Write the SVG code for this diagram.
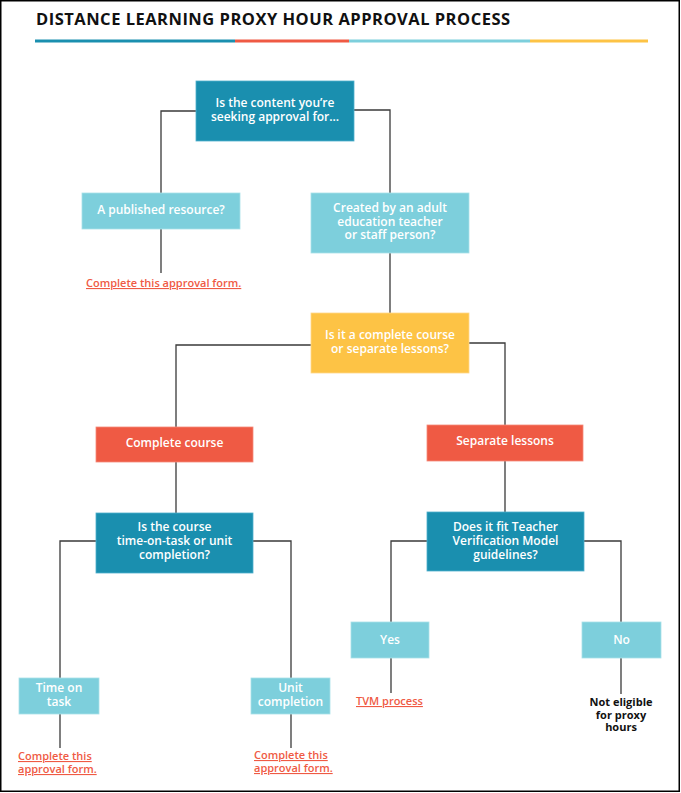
<svg xmlns="http://www.w3.org/2000/svg" width="681" height="793" viewBox="0 0 681 793">
<style>
.t{font-family:"Open Sans","Liberation Sans",sans-serif;font-weight:600;font-size:12px;fill:#fff;text-anchor:middle}
.lk{font-family:"Open Sans","Liberation Sans",sans-serif;font-weight:600;font-size:11px;fill:#ef5a44;text-decoration:underline}
.bk{font-family:"Open Sans","Liberation Sans",sans-serif;font-weight:700;font-size:11px;fill:#111;text-anchor:middle}
.c{fill:none;stroke:#3a3a3a;stroke-width:1.3}
.db{fill:#1a8faf;stroke:#4fb0cc;stroke-width:0.8}
.lb{fill:#7dcfdc;stroke:#a9e0e8;stroke-width:0.8}
.rd{fill:#ef5a44;stroke:#f58a7a;stroke-width:0.8}
.yl{fill:#fdc345;stroke:#fed88a;stroke-width:0.8}
</style>
<rect x="0" y="0" width="681" height="793" fill="#fff"/>
<rect x="0.75" y="0.75" width="678.5" height="790.5" fill="none" stroke="#000" stroke-width="1.5"/>
<g id="title">
<text x="36" y="25" font-family="Open Sans, Liberation Sans, sans-serif" font-weight="700" font-size="16.5" fill="#111" letter-spacing="0.5">DISTANCE LEARNING PROXY HOUR APPROVAL PROCESS</text>
<rect x="35" y="39.5" width="200" height="3" fill="#1a8faf"/>
<rect x="235" y="39.5" width="114" height="3" fill="#ef5a44"/>
<rect x="349" y="39.5" width="181" height="3" fill="#7dcfdc"/>
<rect x="530" y="39.5" width="118" height="3" fill="#fdc345"/>
</g>
<g id="connectors">
<path class="c" d="M196,111 H161 V193"/>
<path class="c" d="M354,110 H390 V193"/>
<path class="c" d="M161,229 V273"/>
<path class="c" d="M390,253 V313"/>
<path class="c" d="M311,345 H176 V427"/>
<path class="c" d="M469,343 H505 V425"/>
<path class="c" d="M176,462 V513"/>
<path class="c" d="M505,461 V512"/>
<path class="c" d="M96,541 H60 V678"/>
<path class="c" d="M253,541 H291 V678"/>
<path class="c" d="M427,541 H391 V622"/>
<path class="c" d="M584,541 H621 V622"/>
<path class="c" d="M60,714 V748"/>
<path class="c" d="M291,714 V748"/>
<path class="c" d="M391,658 V693"/>
<path class="c" d="M621,658 V694"/>
</g>
<g id="n-content">
<rect class="db" x="196" y="81" width="158" height="60"/>
<text class="t" x="275" y="107">Is the content you’re</text>
<text class="t" x="275" y="120.5">seeking approval for…</text>
</g>
<g id="n-published">
<rect class="lb" x="82" y="193" width="158" height="36"/>
<text class="t" x="161" y="213.5">A published resource?</text>
</g>
<g id="l-published">
<text class="lk" x="86" y="287">Complete this approval form.</text>
</g>
<g id="n-created">
<rect class="lb" x="311" y="193" width="158" height="60"/>
<text class="t" x="390" y="212">Created by an adult</text>
<text class="t" x="390" y="225.5">education teacher</text>
<text class="t" x="390" y="239">or staff person?</text>
</g>
<g id="n-complete-or-separate">
<rect class="yl" x="311" y="313" width="158" height="60"/>
<text class="t" x="390" y="339">Is it a complete course</text>
<text class="t" x="390" y="353">or separate lessons?</text>
</g>
<g id="n-complete-course">
<rect class="rd" x="96" y="427" width="157" height="35"/>
<text class="t" x="174.5" y="446.5">Complete course</text>
</g>
<g id="n-separate">
<rect class="rd" x="427" y="425" width="156" height="36"/>
<text class="t" x="505" y="444.5">Separate lessons</text>
</g>
<g id="n-course-type">
<rect class="db" x="96" y="513" width="157" height="60"/>
<text class="t" x="174.5" y="531">Is the course</text>
<text class="t" x="174.5" y="545">time-on-task or unit</text>
<text class="t" x="174.5" y="558.5">completion?</text>
</g>
<g id="n-tvm">
<rect class="db" x="427" y="512" width="157" height="59"/>
<text class="t" x="505.5" y="531">Does it fit Teacher</text>
<text class="t" x="505.5" y="545">Verification Model</text>
<text class="t" x="505.5" y="558.5">guidelines?</text>
</g>
<g id="n-yes">
<rect class="lb" x="351" y="622" width="78" height="36"/>
<text class="t" x="390" y="643.5">Yes</text>
</g>
<g id="n-no">
<rect class="lb" x="582" y="622" width="79" height="36"/>
<text class="t" x="621.5" y="643.5">No</text>
</g>
<g id="l-tvm">
<text class="lk" x="356" y="705">TVM process</text>
</g>
<g id="l-not-eligible">
<text class="bk" x="621" y="706">Not eligible</text>
<text class="bk" x="621" y="719">for proxy</text>
<text class="bk" x="621" y="731">hours</text>
</g>
<g id="n-time">
<rect class="lb" x="19" y="678" width="80" height="36"/>
<text class="t" x="59" y="692">Time on</text>
<text class="t" x="59" y="706">task</text>
</g>
<g id="n-unit">
<rect class="lb" x="251" y="678" width="79" height="36"/>
<text class="t" x="290.5" y="692">Unit</text>
<text class="t" x="290.5" y="706">completion</text>
</g>
<g id="l-time">
<text class="lk" x="18" y="760">Complete this</text>
<text class="lk" x="18" y="773">approval form.</text>
</g>
<g id="l-unit">
<text class="lk" x="254" y="759">Complete this</text>
<text class="lk" x="254" y="772">approval form.</text>
</g>
</svg>
